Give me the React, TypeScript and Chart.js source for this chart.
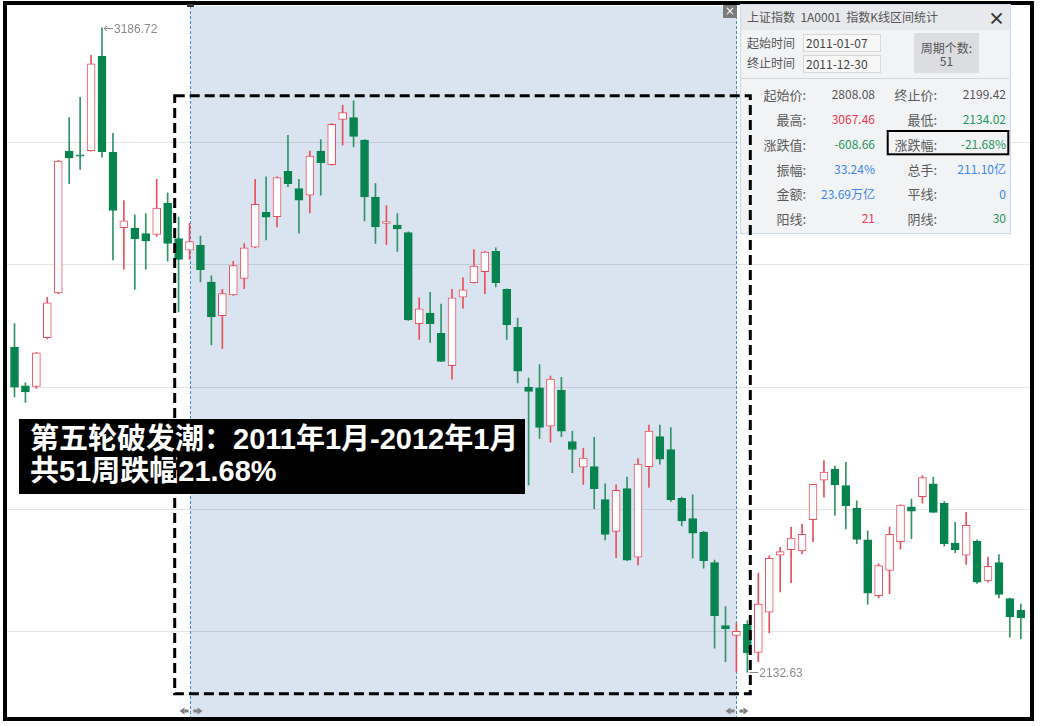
import React, { useEffect, useRef } from "react";
import { Chart, registerables } from "chart.js";

Chart.register(...registerables);

// ---- Weekly K-line data (上证指数, weekly) ----
const openPrices = [
  2664, 2601, 2600, 2680, 2753, 2985, 2979, 2986, 3140, 2983,
  2860, 2859, 2850, 2849, 2900, 2842, 2823, 2831, 2771, 2716,
  2750, 2777, 2828, 2885, 2878, 2952, 2924, 2913, 2985, 2963,
  3037, 3040, 3003, 2910, 2867, 2864, 2852, 2703, 2720, 2687,
  2634, 2746, 2770, 2788, 2821, 2759, 2697, 2599, 2598, 2535,
  2594, 2510, 2468, 2469, 2415, 2363, 2433, 2321, 2469, 2518,
  2497, 2417, 2384, 2362, 2312, 2209, 2193, 2211, 2165, 2231,
  2324, 2333, 2331, 2382, 2447, 2465, 2438, 2401, 2349, 2258,
  2299, 2346, 2403, 2420, 2441, 2409, 2344, 2324, 2347, 2282,
  2312, 2253, 2234,
];
const highPrices = [
  2703, 2606, 2656, 2746, 2970, 3040, 3073, 3142, 3186.72, 3014,
  2904, 2881, 2883, 2939, 2917, 2877, 2867, 2846, 2781, 2759,
  2805, 2834, 2939, 2943, 2943, 3011, 2939, 2985, 3004, 3030,
  3060, 3067.46, 3004, 2932, 2896, 2883, 2853, 2745, 2754, 2735,
  2759, 2778, 2824, 2821, 2827, 2760, 2712, 2614, 2636, 2617,
  2615, 2527, 2499, 2517, 2441, 2439, 2452, 2482, 2537, 2537,
  2533, 2419, 2423, 2363, 2316, 2240, 2213, 2217, 2295, 2323,
  2337, 2370, 2375, 2440, 2479, 2470, 2476, 2413, 2364, 2310,
  2370, 2407, 2416, 2454, 2452, 2412, 2378, 2394, 2349, 2321,
  2325, 2254, 2244,
];
const lowPrices = [
  2583, 2574, 2597, 2678, 2752, 2932, 2955, 2985, 2975, 2807,
  2792, 2759, 2792, 2846, 2805, 2722, 2808, 2771, 2668, 2662,
  2749, 2760, 2827, 2840, 2861, 2927, 2851, 2884, 2913, 2962,
  2995, 2992, 2871, 2834, 2832, 2821, 2708, 2677, 2672, 2641,
  2612, 2728, 2769, 2752, 2763, 2677, 2606, 2439, 2515, 2509,
  2518, 2459, 2440, 2400, 2349, 2320, 2315, 2308, 2435, 2473,
  2412, 2372, 2319, 2303, 2172, 2150, 2134.02, 2132.63, 2150, 2197,
  2264, 2279, 2326, 2346, 2419, 2389, 2367, 2343, 2244, 2254,
  2261, 2334, 2351, 2409, 2394, 2339, 2328, 2309, 2278, 2280,
  2254, 2190, 2187,
];
const closePrices = [
  2599, 2591, 2655, 2737, 2969, 2974, 2977, 3128, 2984, 2888,
  2871, 2842, 2838, 2892, 2834, 2808.08, 2837, 2791, 2714, 2752,
  2798, 2827, 2898, 2877, 2942, 2932, 2905, 2977, 2966, 3029,
  3048, 3009, 2910, 2861, 2870, 2858, 2709, 2727, 2703, 2641,
  2745, 2758, 2797, 2820, 2770, 2701, 2625, 2592, 2533, 2612,
  2527, 2497, 2483, 2433, 2358, 2430, 2316, 2473, 2527, 2481,
  2415, 2380, 2360, 2315, 2225, 2204, 2199.42, 2164, 2244, 2319,
  2330, 2352, 2358, 2440, 2460, 2439, 2405, 2350, 2262, 2307,
  2358, 2406, 2396, 2451, 2394, 2343, 2333, 2373, 2280, 2306,
  2260, 2223, 2222,
];

// weekly category labels (Fridays), week of National Day 2011 closed
const weekLabels: string[] = (() => {
  const out: string[] = [];
  const d = new Date(2010, 8, 17);
  const fmt = (t: Date) =>
    `${t.getFullYear()}-${String(t.getMonth() + 1).padStart(2, "0")}-${String(t.getDate()).padStart(2, "0")}`;
  while (out.length < openPrices.length) {
    const s = fmt(d);
    if (s !== "2011-10-07") out.push(s);
    d.setDate(d.getDate() + 7);
  }
  return out;
})();

const gridValues = [2200, 2400, 2600, 2800, 3000];
const rangeStartIndex = 16; // 2011-01-07
const rangeEndIndex = 66; // 2011-12-30
const maxIndex = 8; // 3186.72
const minIndex = 67; // 2132.63

const statsLeft = [
  ["起始价:", "2808.08", "gray"],
  ["最高:", "3067.46", "red"],
  ["涨跌值:", "-608.66", "green"],
  ["振幅:", "33.24%", "blue"],
  ["金额:", "23.69万亿", "blue"],
  ["阳线:", "21", "red"],
];
const statsRight = [
  ["终止价:", "2199.42", "gray"],
  ["最低:", "2134.02", "green"],
  ["涨跌幅:", "-21.68%", "green"],
  ["总手:", "211.10亿", "blue"],
  ["平线:", "0", "blue"],
  ["阴线:", "30", "green"],
];

const UP = "#e9505d";
const DOWN = "#07834f";
const DOWN_WICK = "#2f9468";
const VALUE_COLORS: Record<string, string> = {
  gray: "#555555",
  red: "#e8384f",
  green: "#1f9660",
  blue: "#3b86e6",
};
const PANEL_FONT = '"Noto Sans CJK SC", "Liberation Sans", sans-serif';

function Txt(props: {
  x?: number;
  right?: number;
  y: number;
  size?: number;
  color?: string;
  weight?: number;
  children: React.ReactNode;
  center?: boolean;
  width?: number;
}) {
  const size = props.size ?? 12;
  const lh = size + 6;
  const style: React.CSSProperties = {
    position: "absolute",
    top: props.y - lh / 2,
    lineHeight: `${lh}px`,
    fontSize: size,
    color: props.color ?? "#555",
    fontFamily: PANEL_FONT,
    fontWeight: props.weight ?? 400,
    whiteSpace: "pre",
  };
  if (props.right !== undefined) {
    style.right = 1042 - props.right;
    style.textAlign = "right";
  } else if (props.center && props.width) {
    style.left = props.x;
    style.width = props.width;
    style.textAlign = "center";
  } else {
    style.left = props.x;
  }
  return <div style={style}>{props.children}</div>;
}

export default function App() {
  const canvasRef = useRef<HTMLCanvasElement>(null);

  useEffect(() => {
    const canvas = canvasRef.current;
    if (!canvas) return;
    const isUp = closePrices.map((c, i) => c >= openPrices[i]);
    const bodies = openPrices.map((o, i) => [Math.min(o, closePrices[i]), Math.max(o, closePrices[i])]);
    const wicks = lowPrices.map((l, i) => [l, highPrices[i]]);

    const decor = {
      id: "decor",
      beforeDraw(chart: any) {
        const ctx = chart.ctx;
        ctx.save();
        ctx.fillStyle = "#ffffff";
        ctx.fillRect(0, 0, chart.width, chart.height);
        ctx.restore();
      },
      beforeDatasetsDraw(chart: any) {
        const ctx = chart.ctx;
        const xs = chart.scales.x;
        const ys = chart.scales.y;
        const x0 = Math.round(xs.getPixelForValue(rangeStartIndex)) + 0.5;
        const x1 = Math.round(xs.getPixelForValue(rangeEndIndex)) + 0.5;
        ctx.save();
        ctx.fillStyle = "#dae4f0";
        ctx.fillRect(x0, 6, x1 - x0, 711);
        ctx.strokeStyle = "rgba(0,0,0,0.1)";
        ctx.lineWidth = 1;
        for (const v of gridValues) {
          const py = Math.round(ys.getPixelForValue(v)) + 0.5;
          ctx.beginPath();
          ctx.moveTo(7, py);
          ctx.lineTo(1030, py);
          ctx.stroke();
        }
        ctx.strokeStyle = "#3f86ea";
        ctx.setLineDash([3, 2]);
        for (const x of [x0, x1]) {
          ctx.beginPath();
          ctx.moveTo(x, 6);
          ctx.lineTo(x, 718);
          ctx.stroke();
        }
        ctx.restore();
      },
      afterDatasetsDraw(chart: any) {
        const ctx = chart.ctx;
        const xs = chart.scales.x;
        const ys = chart.scales.y;
        ctx.save();
        // max / min labels
        ctx.font = '12px "Liberation Sans", sans-serif';
        ctx.fillStyle = "#8a8a8a";
        ctx.strokeStyle = "#8a8a8a";
        ctx.lineWidth = 1;
        ctx.textBaseline = "middle";
        const hx = xs.getPixelForValue(maxIndex);
        const hy = Math.round(ys.getPixelForValue(highPrices[maxIndex])) + 0.5;
        ctx.beginPath();
        ctx.moveTo(hx + 2, hy);
        ctx.lineTo(hx + 11, hy);
        ctx.moveTo(hx + 2, hy);
        ctx.lineTo(hx + 5, hy - 2.5);
        ctx.moveTo(hx + 2, hy);
        ctx.lineTo(hx + 5, hy + 2.5);
        ctx.stroke();
        ctx.fillText(String(highPrices[maxIndex]), hx + 12, hy + 1);
        const lx = xs.getPixelForValue(minIndex);
        const ly = Math.round(ys.getPixelForValue(lowPrices[minIndex])) + 0.5;
        ctx.beginPath();
        ctx.moveTo(lx + 2, ly);
        ctx.lineTo(lx + 11, ly);
        ctx.stroke();
        ctx.fillText(String(lowPrices[minIndex]), lx + 12, ly + 1);

        // outer frame
        ctx.strokeStyle = "#000";
        ctx.lineWidth = 4;
        ctx.strokeRect(5, 3, 1027, 716);

        // top marker
        const x0 = Math.round(xs.getPixelForValue(rangeStartIndex)) + 0.5;
        const x1 = Math.round(xs.getPixelForValue(rangeEndIndex)) + 0.5;
        ctx.fillStyle = "#333";
        ctx.fillRect(x0 - 3.5, 4, 7, 3);

        // bottom drag arrows
        ctx.fillStyle = "#7d7d7d";
        for (const x of [x0, x1]) {
          const cy = 711;
          ctx.beginPath();
          ctx.moveTo(x - 11, cy);
          ctx.lineTo(x - 6, cy - 3.5);
          ctx.lineTo(x - 6, cy + 3.5);
          ctx.closePath();
          ctx.fill();
          ctx.fillRect(x - 6, cy - 1.5, 4, 3);
          ctx.beginPath();
          ctx.moveTo(x + 12, cy);
          ctx.lineTo(x + 7, cy - 3.5);
          ctx.lineTo(x + 7, cy + 3.5);
          ctx.closePath();
          ctx.fill();
          ctx.fillRect(x + 3, cy - 1.5, 4, 3);
        }
        ctx.restore();
      },
    };

    const chart = new Chart(canvas, {
      type: "bar",
      data: {
        labels: weekLabels,
        datasets: [
          {
            label: "body",
            data: bodies as any,
            backgroundColor: isUp.map((u) => (u ? "#ffffff" : DOWN)),
            borderColor: isUp.map((u) => (u ? UP : DOWN)),
            borderWidth: 1,
            borderSkipped: false,
            barThickness: 8,
            grouped: false,
            order: 0,
          } as any,
          {
            label: "wick",
            data: wicks as any,
            backgroundColor: isUp.map((u) => (u ? UP : DOWN_WICK)),
            borderWidth: 0,
            barThickness: 1,
            grouped: false,
            order: 1,
          } as any,
        ],
      },
      options: {
        responsive: false,
        maintainAspectRatio: false,
        animation: false,
        devicePixelRatio: 1,
        layout: { padding: { left: 9.03, right: 15.7, top: 6, bottom: 10 } },
        plugins: { legend: { display: false }, tooltip: { enabled: false } },
        events: [],
        scales: {
          x: { type: "category", display: false, offset: true },
          y: { type: "linear", display: false, min: 2061, max: 3222.5 },
        },
      },
      plugins: [decor],
    });
    return () => chart.destroy();
  }, []);

  const rowY = [94.3, 119, 144, 169, 193.5, 218.3];

  return (
    <div style={{ position: "absolute", left: 0, top: 0, width: 1042, height: 726, background: "#fff", overflow: "hidden" }}>
      <canvas
        ref={canvasRef}
        width={1042}
        height={726}
        style={{ position: "absolute", left: 0, top: 0, width: 1042, height: 726 }}
      />

      {/* small close box */}
      <div
        style={{
          position: "absolute", left: 723, top: 5, width: 14, height: 13, background: "#7b7b7b",
          color: "#fff", fontSize: 12, lineHeight: "13px", textAlign: "center", fontFamily: "DejaVu Sans, sans-serif",
        }}
      >
        ×
      </div>

      {/* statistics panel */}
      <div
        style={{
          position: "absolute", left: 740, top: 4, width: 269, height: 228, background: "#f2f3f5",
          border: "1px solid #c9d9ee",
        }}
      />
      <div style={{ position: "absolute", left: 741, top: 5, width: 269, height: 25, background: "#e8e9ec" }} />
      <Txt x={747} y={17} size={12} color="#555">上证指数  1A0001  指数K线区间统计</Txt>
      <Txt x={988} y={17} size={17} color="#333" weight={700}>×</Txt>

      <Txt x={747} y={43} size={12} color="#555">起始时间</Txt>
      <Txt x={747} y={63} size={12} color="#555">终止时间</Txt>
      <div style={{ position: "absolute", left: 803, top: 34, width: 76, height: 16, background: "#f7f7f8", border: "1px solid #d8d8d8" }} />
      <div style={{ position: "absolute", left: 803, top: 55, width: 76, height: 16, background: "#f7f7f8", border: "1px solid #d8d8d8" }} />
      <Txt x={806} y={43} size={12} color="#444">2011-01-07</Txt>
      <Txt x={806} y={64} size={12} color="#444">2011-12-30</Txt>
      <div style={{ position: "absolute", left: 914, top: 33, width: 65, height: 40, background: "#dcdde0" }} />
      <Txt x={914} width={65} center y={48} size={12} color="#555">周期个数:</Txt>
      <Txt x={914} width={65} center y={61} size={12} color="#555">51</Txt>
      <div style={{ position: "absolute", left: 741, top: 78, width: 268, height: 1, background: "#d5d6d8" }} />

      {statsLeft.map((r, i) => (
        <React.Fragment key={"l" + i}>
          <Txt right={806} y={rowY[i]} size={13} color="#5a5a5a">{r[0]}</Txt>
          <Txt right={875} y={rowY[i]} size={12} color={VALUE_COLORS[r[2]]}>{r[1]}</Txt>
        </React.Fragment>
      ))}
      {statsRight.map((r, i) => (
        <React.Fragment key={"r" + i}>
          <Txt right={937} y={rowY[i]} size={13} color="#5a5a5a">{r[0]}</Txt>
          <Txt right={1006} y={rowY[i]} size={12} color={VALUE_COLORS[r[2]]}>{r[1]}</Txt>
        </React.Fragment>
      ))}

      {/* annotation */}
      <div
        style={{
          position: "absolute", left: 19, top: 419, width: 506, height: 75, background: "#000",
          color: "#fff", fontFamily: '"Liberation Sans", "Noto Sans CJK SC", sans-serif', fontWeight: 700,
          fontSize: 29, lineHeight: "32px", paddingTop: 4, paddingLeft: 11, boxSizing: "border-box", whiteSpace: "pre",
        }}
      >
        <div>第五轮破发潮：2011年1月-2012年1月</div>
        <div>共51周跌幅21.68%</div>
      </div>

      {/* dashed highlight box and stat highlight */}
      <svg width={1042} height={726} style={{ position: "absolute", left: 0, top: 0, pointerEvents: "none" }}>
        <rect x={174.7} y={95.7} width={575.6} height={598} fill="none" stroke="#000" strokeWidth={3} strokeDasharray="10 5" />
        <rect x={887.7} y={131} width={120.6} height={23.3} fill="none" stroke="#000" strokeWidth={2} />
      </svg>
    </div>
  );
}
